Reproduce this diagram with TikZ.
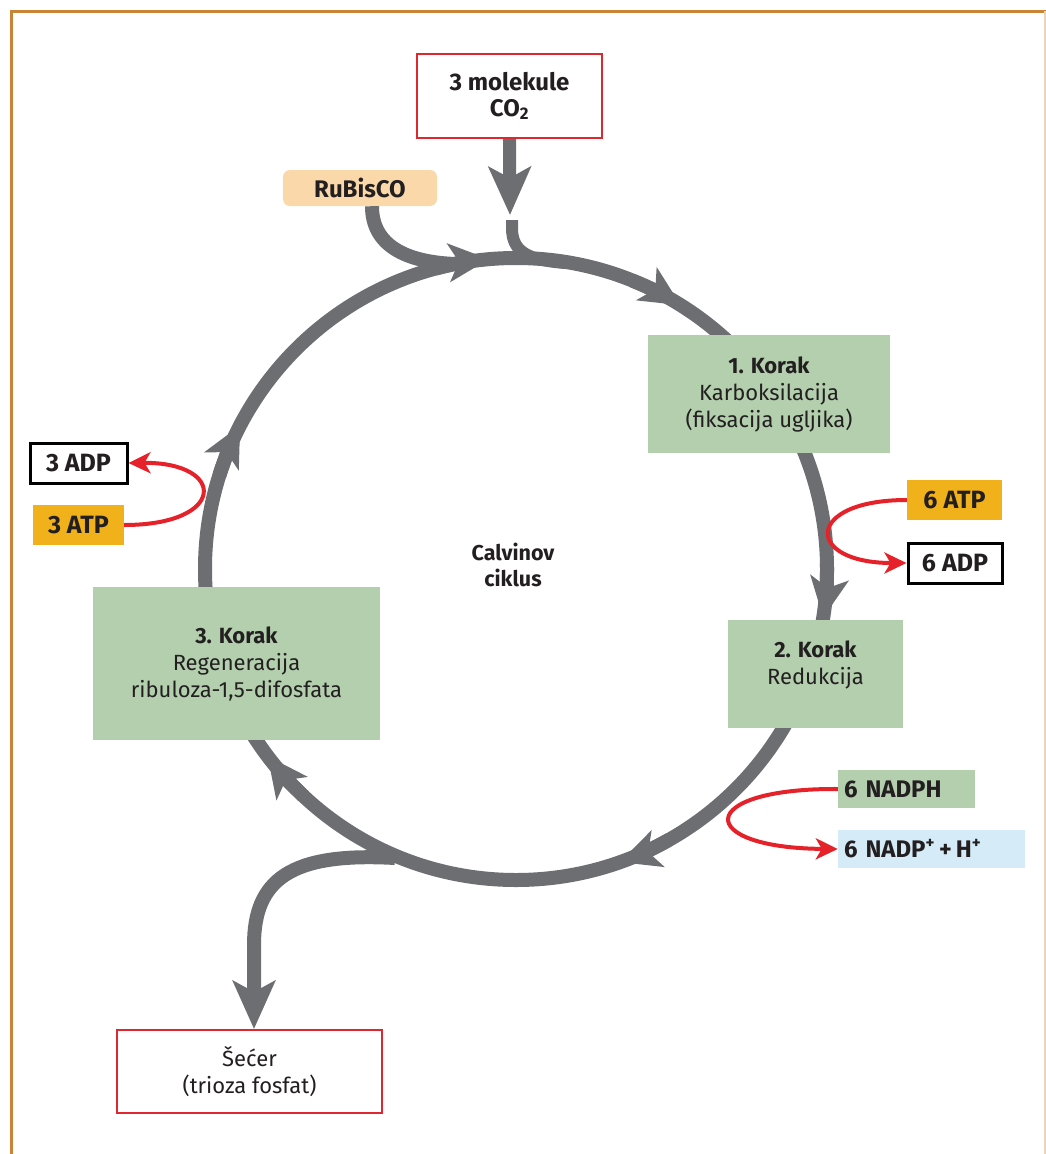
\documentclass[tikz,border=0pt]{standalone}
\usepackage{fontspec}
\setmainfont{Fira Sans}
\usetikzlibrary{arrows.meta}
\definecolor{flowgray}{HTML}{6D6E72}
\definecolor{boxgreen}{HTML}{B3CFAE}
\definecolor{atporange}{HTML}{F1B11B}
\definecolor{rubiscol}{HTML}{FAD8AA}
\definecolor{nadpblue}{HTML}{D5ECF8}
\definecolor{redline}{HTML}{E52129}
\definecolor{framecol}{HTML}{C98535}
\definecolor{boxred}{HTML}{E0262E}
\definecolor{txt}{HTML}{231F20}
\begin{document}
\begin{tikzpicture}[x=1pt,y=-1pt,
  font=\fontsize{22}{27}\selectfont, text=txt,
  flow/.style={draw=flowgray,line width=14pt},
  bigtip/.style={-{Stealth[length=48pt,width=42pt,inset=11pt]}},
  circtip/.style={-{Stealth[length=40pt,width=38pt,inset=10pt]}},
  redarrow/.style={draw=redline,line width=4pt,-{Stealth[length=22pt,width=21pt,inset=6pt]}},
  greenbox/.style={fill=boxgreen,draw=none,align=center,inner sep=0pt},
  redbox/.style={fill=white,draw=boxred,line width=2pt,align=center,inner sep=0pt},
  atpbox/.style={fill=atporange,draw=none,inner sep=0pt,font=\fontsize{25}{27}\selectfont\bfseries},
  adpbox/.style={fill=white,draw=black,line width=3pt,inner sep=0pt,font=\fontsize{25}{27}\selectfont\bfseries},
]
\useasboundingbox (0,0) rectangle (1046,1154);
% frame
\draw[framecol,line width=3pt] (11,1154) -- (11,11) -- (1046,11);
\draw[framecol!35,line width=1.5pt] (1045,11) -- (1045,1154);

% cycle
\coordinate (cc) at (516,569);
\draw[flow] (cc) circle (311);
\foreach \t [evaluate=\t as \s using \t-10] in {265,-58,9,70.5,143,207.5}
  \draw[flow,circtip] ([shift={(cc)}]\s:311) arc (\s:\t:311);

% nodes
\node[redbox,minimum width=185,minimum height=84,font=\fontsize{24}{26}\selectfont\bfseries] (co2) at (509.5,96)
  {3 molekule\\CO\textsubscript{2}};
\node[fill=rubiscol,rounded corners=7pt,inner sep=0pt,minimum width=154,minimum height=36,font=\fontsize{24}{27}\selectfont\bfseries] (rub) at (360,188) {RuBisCO};

% RuBisCO inflow
\coordinate (rubjoin) at (455,264);
\draw[flow] ([xshift=12pt]rub.south) .. controls (372,245) and (405,262) .. (rubjoin);
% CO2 arrow
\coordinate (co2tip) at (510,215);
\draw[flow,line width=13pt,bigtip] (co2.south) -- (co2tip);
\coordinate (stubtop) at (512,220);
\coordinate (stubjoin) at (565,263);
\draw[flow,line width=12pt] (stubtop) -- ++(0,8) .. controls (512,252) and (528,260) .. (stubjoin);

% sugar outflow
\coordinate (sugjoin) at (395,858);
\node[redbox,minimum width=265,minimum height=83] (sug) at (249.5,1071.5) {Šećer\\(trioza fosfat)};
\draw[flow,bigtip] (sugjoin) .. controls (290,852) and (254,880) .. (254,945) -- (sug.north -| 254,0);

% step boxes
\node[greenbox,minimum width=242,minimum height=118] (s1) at (769,394)
  {\textbf{1. Korak}\\Karboksilacija\\(fiksacija ugljika)};
\node[greenbox,minimum width=175,minimum height=108] (s2) at (815.5,674) {};
\node[align=center,inner sep=0pt] (s2t) at (815.5,665) {\textbf{2. Korak}\\Redukcija};
\node[greenbox,minimum width=287,minimum height=153] (s3) at (236.5,663.5)
  {\textbf{3. Korak}\\Regeneracija\\ribuloza-1,5-difosfata};
\node[align=center,inner sep=0pt,font=\fontsize{21.5}{26}\selectfont\bfseries] (calv) at (513,565) {Calvinov\\ciklus};

% energy boxes
\node[atpbox,minimum width=95,minimum height=40] (atp6) at (954.5,500) {6 ATP};
\node[adpbox,minimum width=94,minimum height=40] (adp6) at (955,563) {6 ADP};
\node[adpbox,minimum width=97,minimum height=40] (adp3) at (78.5,463) {3 ADP};
\node[atpbox,minimum width=91,minimum height=40] (atp3) at (78.5,525) {3 ATP};
\node[fill=boxgreen,inner sep=0pt,inner xsep=6pt,minimum height=38,text width=125,align=left,font=\fontsize{24}{27}\selectfont\bfseries] (nadph) at (906.5,789) {6 NADPH};
\node[fill=nadpblue,inner sep=0pt,inner xsep=6pt,minimum height=38,text width=175,align=left,font=\fontsize{24}{27}\selectfont\bfseries] (nadp) at (931.5,849) {6 NADP\textsuperscript{+}\hspace{4pt}+\hspace{4pt}H\textsuperscript{+}};

% red arrows
\draw[redarrow] (atp6.west) .. controls (804,500) and (804,563) .. (adp6.west);
\draw[redarrow] (atp3.east) .. controls (227,525) and (227,462) .. (adp3.east);
\draw[redarrow] (nadph.west) .. controls (694,788) and (694,848) .. (nadp.west);
\end{tikzpicture}
\end{document}
